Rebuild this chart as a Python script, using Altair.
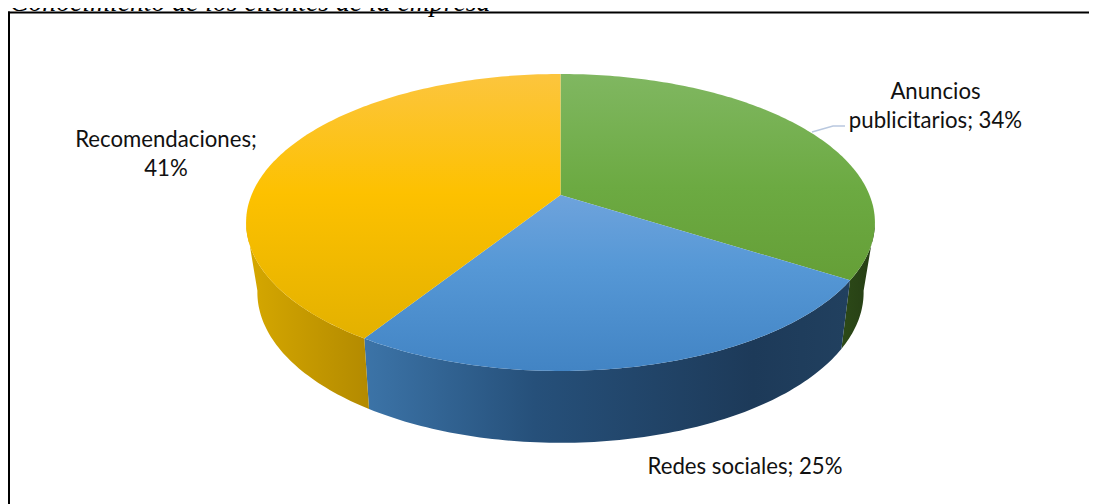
import math
import altair as alt

# ---- chart values ----
categories = ["Anuncios publicitarios", "Redes sociales", "Recomendaciones"]
shares = [34, 25, 41]
label_text = ["Anuncios\npublicitarios; 34%", "Redes sociales; 25%", "Recomendaciones;\n41%"]
label_x = [935.5, 745, 166]
label_y = [81, 456, 129]
leader_x = [812, 833, 845]
leader_y = [132, 126, 126]
title_text = "Conocimiento de los clientes de la empresa"

# top and bottom discs of the tilted pie (perspective view of a circle)
CX = 560.5
TOP = dict(k=0.185, a=309.0, b=143.4, y0=195.0)
BOT = dict(k=0.200, a=297.0, b=144.4, y0=262.3)

top_fill = [
    [("#80B761", 0), ("#6CAA42", 0.55), ("#659F37", 1)],
    [("#6EA3DC", 0), ("#5698D6", 0.4), ("#4284C4", 1)],
    [("#FCC53E", 0), ("#FDC100", 0.45), ("#E3B100", 1)],
]
side_fill = [
    [("#2D4A18", 0), ("#253D14", 1)],
    [("#3C74A8", 0), ("#26507A", 0.35), ("#1D3A59", 0.8), ("#21405F", 1)],
    [("#D6A800", 0), ("#B38A00", 1)],
]


def disc_point(theta, d):
    t = math.radians(theta)
    u, v = math.sin(t), math.cos(t)
    w = 1 + d["k"] * v
    return [CX + d["a"] * u / w, d["y0"] - d["b"] * v / w]


def sweep(t0, t1, d):
    n = max(2, int(abs(t1 - t0)) + 1)
    return [disc_point(t0 + (t1 - t0) * i / n, d) for i in range(n + 1)]


def feature(points):
    ring = points + [points[0]]
    return {"type": "Feature", "properties": {},
            "geometry": {"type": "Polygon", "coordinates": [ring]}}


def gradient(stops, horizontal):
    return alt.LinearGradient(
        gradient="linear", x1=0, y1=0,
        x2=1 if horizontal else 0,
        y2=0 if horizontal else 1,
        stops=[alt.GradientStop(color=c, offset=o) for c, o in stops],
    )


edges = [0]
for s in shares:
    edges.append(edges[-1] + s * 3.6)


def shape(poly, stops, horizontal):
    return alt.Chart(alt.InlineData(values=[feature(poly)], format=alt.DataFormat(type="json"))).mark_geoshape(
        fill=gradient(stops, horizontal), strokeWidth=0
    ).project(**{"type": "identity", "scale": 1, "translate": [-8, -8]})


sil_r = 90 + math.degrees(math.asin(0.19))
sil_l = 270 - math.degrees(math.asin(0.19))
side_range = [(sil_r, edges[1]), (edges[1], edges[2]), (edges[2], sil_l)]

layers = []
for (a, b), st in zip(side_range, side_fill):
    layers.append(shape(sweep(a, b, TOP) + sweep(b, a, BOT), st, True))
for i, st in enumerate(top_fill):
    layers.append(shape([[CX, TOP["y0"]]] + sweep(edges[i], edges[i + 1], TOP), st, False))

xs = alt.Scale(domain=[8, 1089])
ys = alt.Scale(domain=[504, 8])

leader = alt.Chart(alt.Data(values=[{"x": x, "y": y, "o": i} for i, (x, y) in enumerate(zip(leader_x, leader_y))])).mark_line(
    color="#B9C8DF", strokeWidth=1.5
).encode(x=alt.X("x:Q", scale=xs, axis=None), y=alt.Y("y:Q", scale=ys, axis=None), order="o:O")

labels = alt.Chart(alt.Data(values=[{"x": x, "y": y, "t": t} for x, y, t in zip(label_x, label_y, label_text)])).mark_text(
    font="Lato", fontSize=22.2, color="#111111", align="center", baseline="top", lineBreak="\n", lineHeight=29
).encode(x=alt.X("x:Q", scale=xs, axis=None), y=alt.Y("y:Q", scale=ys, axis=None), text="t:N")

title = alt.Chart(alt.Data(values=[{"x": 10, "y": 11, "t": title_text}])).mark_text(
    font="Liberation Serif", fontStyle="italic", fontSize=27.7, color="#000000", align="left", baseline="alphabetic"
).encode(x=alt.X("x:Q", scale=xs, axis=None), y=alt.Y("y:Q", scale=ys, axis=None), text="t:N")

frame_top = alt.Chart(alt.Data(values=[{"x": 8, "x2": 1089, "y": 12.5}])).mark_rule(color="#000000", strokeWidth=2).encode(
    x=alt.X("x:Q", scale=xs, axis=None), x2="x2:Q", y=alt.Y("y:Q", scale=ys, axis=None))
frame_left = alt.Chart(alt.Data(values=[{"y": 11.5, "y2": 504, "x": 9}])).mark_rule(color="#000000", strokeWidth=2).encode(
    y=alt.Y("y:Q", scale=ys, axis=None), y2="y2:Q", x=alt.X("x:Q", scale=xs, axis=None))

chart = alt.layer(title, frame_top, frame_left, *layers, leader, labels).properties(
    width=1081, height=496, padding=0, background="#FFFFFF",
    autosize=alt.AutoSizeParams(type="none"),
).resolve_scale(x="shared", y="shared").configure_view(stroke=None)

chart.save("out.html", embed_options={"renderer": "svg", "actions": False})
